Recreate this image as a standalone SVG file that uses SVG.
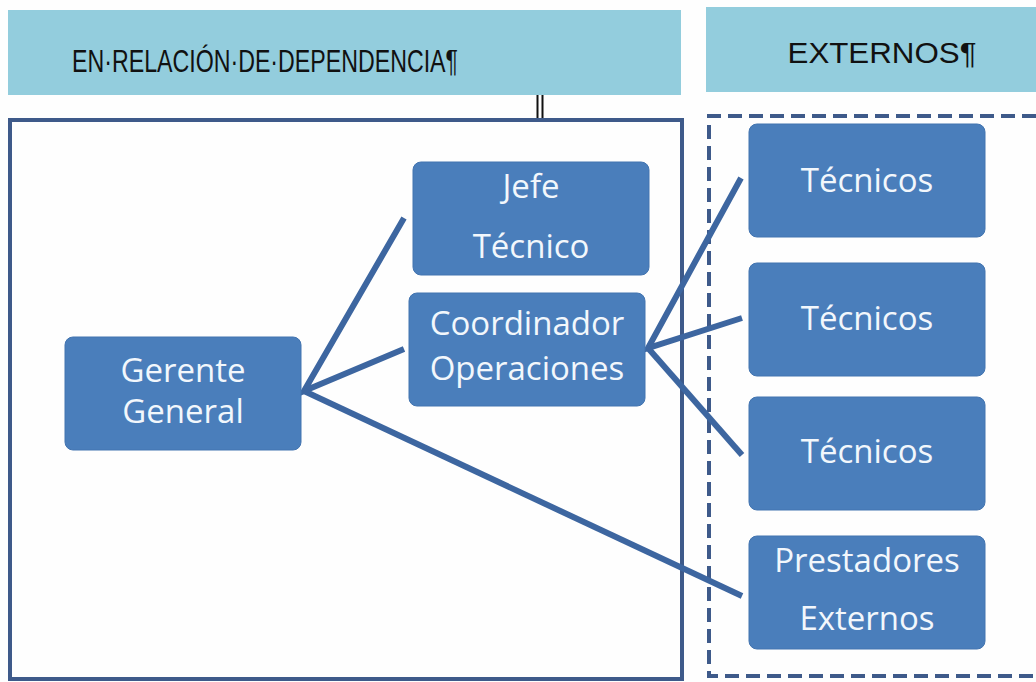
<svg xmlns="http://www.w3.org/2000/svg" width="1036" height="682" viewBox="0 0 1036 682">
<style>
.hdr{fill:#93cddd}
.htxt{font-family:"Liberation Sans",Arial,sans-serif;fill:#111;text-anchor:middle}
.node{fill:#4a7ebb;stroke:#4274b0;stroke-width:1}
.ntxt{font-family:"Open Sans","Noto Sans",sans-serif;font-size:33px;fill:#f2f7fc;text-anchor:middle}
.conn{stroke:#3d66a0;stroke-width:6;fill:none;stroke-linecap:butt}
</style>
<rect width="1036" height="682" fill="#fefefe"/>
<g id="header-dependencia">
<rect class="hdr" x="8" y="10" width="673" height="85"/>
<text class="htxt" x="265" y="72" font-size="32" textLength="386" lengthAdjust="spacingAndGlyphs">EN·RELACIÓN·DE·DEPENDENCIA¶</text>
</g>
<g id="header-externos">
<rect class="hdr" x="706" y="7" width="330" height="85"/>
<text class="htxt" x="882" y="63" font-size="30" textLength="189" lengthAdjust="spacingAndGlyphs">EXTERNOS¶</text>
</g>
<g id="frames">
<rect x="10" y="120" width="672" height="559" fill="none" stroke="#3e5a8a" stroke-width="4"/>
<path d="M1036 116 H709 V676 H1036" fill="none" stroke="#3e5a8a" stroke-width="4" stroke-dasharray="14,7"/>
<line x1="537.5" y1="95" x2="537.5" y2="118" stroke="#111" stroke-width="2"/>
<line x1="542.5" y1="95" x2="542.5" y2="118" stroke="#111" stroke-width="2"/>
</g>
<g id="connectors">
<polyline class="conn" points="404,218 304,391 404,349"/>
<line class="conn" x1="304" y1="391" x2="742" y2="596"/>
<polyline class="conn" points="741,178 648,348 742,318"/>
<line class="conn" x1="648" y1="348" x2="742" y2="455"/>
</g>
<g id="gerente">
<rect class="node" x="65" y="337" width="236" height="113" rx="8"/>
<text class="ntxt" x="183" y="382">Gerente</text>
<text class="ntxt" x="183" y="423">General</text>
</g>
<g id="jefe">
<rect class="node" x="413" y="162" width="236" height="113" rx="8"/>
<text class="ntxt" x="531" y="198">Jefe</text>
<text class="ntxt" x="531" y="258">Técnico</text>
</g>
<g id="coordinador">
<rect class="node" x="409" y="293" width="236" height="113" rx="8"/>
<text class="ntxt" x="527" y="335">Coordinador</text>
<text class="ntxt" x="527" y="380">Operaciones</text>
</g>
<g id="tecnicos1">
<rect class="node" x="749" y="124" width="236" height="113" rx="8"/>
<text class="ntxt" x="867" y="192">Técnicos</text>
</g>
<g id="tecnicos2">
<rect class="node" x="749" y="263" width="236" height="113" rx="8"/>
<text class="ntxt" x="867" y="330">Técnicos</text>
</g>
<g id="tecnicos3">
<rect class="node" x="749" y="397" width="236" height="113" rx="8"/>
<text class="ntxt" x="867" y="463">Técnicos</text>
</g>
<g id="prestadores">
<rect class="node" x="749" y="536" width="236" height="113" rx="8"/>
<text class="ntxt" x="867" y="572">Prestadores</text>
<text class="ntxt" x="867" y="630">Externos</text>
</g>
</svg>
